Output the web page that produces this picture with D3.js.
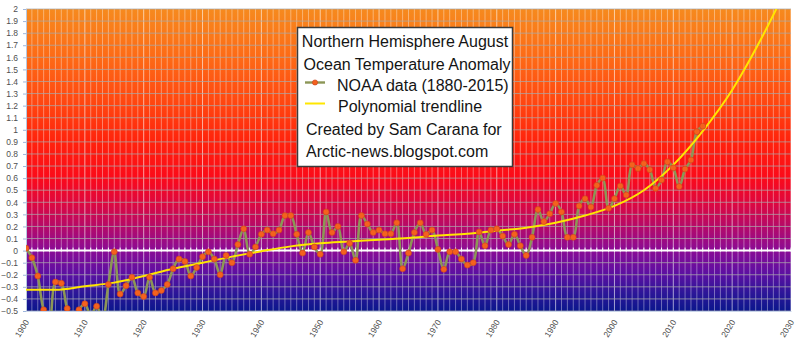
<!DOCTYPE html>
<html>
<head>
<meta charset="utf-8">
<script src="https://cdn.jsdelivr.net/npm/d3@7"></script>
<style>
  html, body { margin: 0; padding: 0; background: #ffffff; }
  svg { display: block; font-family: "Liberation Sans", Arial, sans-serif; }
</style>
</head>
<body>
<svg id="chart" width="796" height="343"></svg>
<script>
// Northern Hemisphere August ocean temperature anomaly (°C), one value per year from 1900
const firstYear = 1900;
const anomalies = [
  0.02, -0.06, -0.21, -0.49, -0.58, -0.26, -0.27, -0.48, -0.56, -0.49,
  -0.44, -0.54, -0.46, -0.57, -0.28, -0.01, -0.36, -0.29, -0.22, -0.35,
  -0.38, -0.22, -0.35, -0.33, -0.28, -0.15, -0.07, -0.09, -0.21, -0.14,
  -0.05, -0.01, -0.07, -0.20, -0.04, -0.10, 0.05, 0.18, -0.03, 0.03,
  0.135, 0.17, 0.14, 0.17, 0.29, 0.29, 0.135, -0.02, 0.15, 0.03,
  -0.03, 0.32, 0.15, 0.20, -0.01, 0.06, -0.08, 0.29, 0.22, 0.15,
  0.17, 0.14, 0.14, 0.23, -0.15, -0.02, 0.15, 0.23, 0.135, 0.17,
  0.01, -0.155, -0.01, -0.01, -0.07, -0.12, -0.10, 0.155, 0.04, 0.17,
  0.18, 0.12, 0.05, 0.135, 0.04, -0.04, 0.11, 0.34, 0.24, 0.305,
  0.39, 0.32, 0.11, 0.11, 0.37, 0.43, 0.36, 0.54, 0.60, 0.35,
  0.43, 0.535, 0.46, 0.71, 0.68, 0.72, 0.67, 0.515, 0.585, 0.735,
  0.685, 0.53, 0.675, 0.75, 0.985, 1.03
];

// Polynomial trendline, sampled every five years
const trendYears = [1900, 1905, 1910, 1915, 1920, 1925, 1930, 1935, 1940, 1945,
  1950, 1955, 1960, 1965, 1970, 1975, 1980, 1985, 1990, 1995,
  2000, 2005, 2010, 2015, 2020, 2025, 2030];
const trendValues = [-0.325, -0.325, -0.295, -0.265, -0.21, -0.15, -0.10, -0.05, -0.005, 0.035,
  0.06, 0.075, 0.09, 0.105, 0.125, 0.14, 0.165, 0.19, 0.23, 0.29,
  0.37, 0.50, 0.71, 0.99, 1.33, 1.76, 2.25];

// Axis ticks
const yTickValues = [2, 1.9, 1.8, 1.7, 1.6, 1.5, 1.4, 1.3, 1.2, 1.1, 1, 0.9, 0.8, 0.7, 0.6,
  0.5, 0.4, 0.3, 0.2, 0.1, 0, -0.1, -0.2, -0.3, -0.4, -0.5];
const xTickYears = [1900, 1910, 1920, 1930, 1940, 1950, 1960, 1970, 1980, 1990, 2000, 2010, 2020, 2030];

// Legend / title lines
const titleLines = ["Northern Hemisphere August", "Ocean Temperature Anomaly"];
const seriesNames = ["NOAA data (1880-2015)", "Polynomial trendline"];
const creditLines = ["Created by Sam Carana for", "Arctic-news.blogspot.com"];

const svg = d3.select("#chart");
const plotLeft = 26, plotRight = 791, plotTop = 9, plotBottom = 311;

const x = d3.scaleLinear().domain([1900, 2030]).range([plotLeft, plotRight]);
const y = d3.scaleLinear().domain([-0.5, 2]).range([plotBottom, plotTop]);

const defs = svg.append("defs");

// Background gradient: orange at the top, red, purple at zero, navy at the bottom
const bgStops = [
  [2.0, "#f68a1e"], [1.6, "#fd6a16"], [1.2, "#ff4410"], [0.9, "#ff220c"],
  [0.6, "#fb0a1a"], [0.4, "#de083e"], [0.2, "#b50a68"], [0.0, "#8a0b96"],
  [-0.2, "#5a10a2"], [-0.35, "#2c1698"], [-0.5, "#0a168c"]
];
const grad = defs.append("linearGradient")
  .attr("id", "bg").attr("gradientUnits", "userSpaceOnUse")
  .attr("x1", 0).attr("x2", 0).attr("y1", y(2)).attr("y2", y(-0.5));
grad.selectAll("stop").data(bgStops).join("stop")
  .attr("offset", d => (y(d[0]) - y(2)) / (y(-0.5) - y(2)))
  .attr("stop-color", d => d[1]);

defs.append("clipPath").attr("id", "plotClip")
  .append("rect").attr("x", plotLeft).attr("y", plotTop)
  .attr("width", plotRight - plotLeft).attr("height", plotBottom - plotTop);

svg.append("rect")
  .attr("x", plotLeft).attr("y", plotTop)
  .attr("width", plotRight - plotLeft).attr("height", plotBottom - plotTop)
  .attr("fill", "url(#bg)");

// Vertical gridlines, one per year
const gridYears = d3.range(1900, 2031);
svg.append("g").selectAll("line").data(gridYears).join("line")
  .attr("x1", d => x(d)).attr("x2", d => x(d))
  .attr("y1", plotTop).attr("y2", plotBottom)
  .attr("stroke", "#ffffff")
  .attr("stroke-opacity", d => d % 10 === 0 ? 0.6 : 0.38)
  .attr("stroke-width", 1);

// Horizontal gridlines at each tick
svg.append("g").selectAll("line").data(yTickValues).join("line")
  .attr("x1", plotLeft).attr("x2", plotRight)
  .attr("y1", d => y(d)).attr("y2", d => y(d))
  .attr("stroke", "#a8a8a8").attr("stroke-opacity", 0.75)
  .attr("stroke-width", 1);

// Zero line with yearly tick marks
const zeroG = svg.append("g");
zeroG.append("line")
  .attr("x1", plotLeft).attr("x2", plotRight).attr("y1", y(0)).attr("y2", y(0))
  .attr("stroke", "#ffffff").attr("stroke-width", 2);
zeroG.selectAll("line.tk").data(gridYears).join("line").attr("class", "tk")
  .attr("x1", d => x(d)).attr("x2", d => x(d))
  .attr("y1", y(0) - 3).attr("y2", y(0) + 1)
  .attr("stroke", "#ffffff").attr("stroke-width", 1);

// Y axis
const yAxis = svg.append("g")
  .attr("transform", `translate(${plotLeft},0)`)
  .call(d3.axisLeft(y).tickValues(yTickValues).tickSize(3).tickPadding(5)
    .tickFormat(d => d3.format("")(+d.toFixed(1))));
yAxis.select(".domain").attr("stroke", "#b8c8e0");
yAxis.selectAll(".tick line").attr("stroke", "#9fb6dc");
yAxis.selectAll("text").attr("fill", "#505050").attr("font-size", "8.5px")
  .attr("font-family", "'Liberation Sans', Arial, sans-serif");

// X axis with slanted year labels
const xAxis = svg.append("g")
  .attr("transform", `translate(0,${plotBottom})`)
  .call(d3.axisBottom(x).tickValues(xTickYears).tickSize(0).tickFormat(d3.format("d")));
xAxis.select(".domain").attr("stroke", "#c8d4e8");
xAxis.selectAll("text")
  .attr("fill", "#505050").attr("font-size", "8.5px")
  .attr("font-family", "'Liberation Sans', Arial, sans-serif")
  .attr("text-anchor", "end")
  .attr("dy", null)
  .attr("y", 0)
  .attr("transform", "translate(3,11) rotate(-58)");

// Data series and trendline, clipped to the plot area
const plot = svg.append("g").attr("clip-path", "url(#plotClip)");

const series = anomalies.map((v, i) => ({ year: firstYear + i, value: v }));
const trend = trendYears.map((yr, i) => ({ year: yr, value: trendValues[i] }));

const dataLine = d3.line().x(d => x(d.year)).y(d => y(d.value))
  .curve(d3.curveCatmullRom.alpha(0.5));
plot.append("path").datum(series)
  .attr("d", dataLine)
  .attr("fill", "none").attr("stroke", "#8c9656").attr("stroke-width", 2.6)
  .attr("stroke-linejoin", "round");

plot.append("path").datum(trend)
  .attr("d", d3.line().x(d => x(d.year)).y(d => y(d.value)).curve(d3.curveMonotoneX))
  .attr("fill", "none").attr("stroke", "#ffe600").attr("stroke-width", 2);

plot.append("g").selectAll("circle").data(series).join("circle")
  .attr("cx", d => x(d.year)).attr("cy", d => y(d.value)).attr("r", 3)
  .attr("fill", "#f4621e").attr("stroke", "#c8401c").attr("stroke-width", 0.6);

// Legend box
const lg = svg.append("g");
lg.append("rect").attr("x", 297.5).attr("y", 27.5).attr("width", 215).attr("height", 139)
  .attr("fill", "#ffffff").attr("stroke", "#3a3a3a").attr("stroke-width", 1.5);

const txt = (s, xx, yy, anchor) => lg.append("text")
  .attr("x", xx).attr("y", yy).attr("text-anchor", anchor)
  .attr("font-size", "16px").attr("fill", "#141414").text(s);

txt(titleLines[0], 405, 46.5, "middle");
txt(titleLines[1], 407, 69.5, "middle");
txt(seriesNames[0], 337, 91, "start");
txt(seriesNames[1], 338, 112, "start");
txt(creditLines[0], 306, 135, "start");
txt(creditLines[1], 306, 156.5, "start");

lg.append("line").attr("x1", 305).attr("x2", 325).attr("y1", 82.5).attr("y2", 82.5)
  .attr("stroke", "#8c9656").attr("stroke-width", 2.4);
lg.append("circle").attr("cx", 315).attr("cy", 82.5).attr("r", 2.6)
  .attr("fill", "#f4621e").attr("stroke", "#c8401c").attr("stroke-width", 0.6);
lg.append("line").attr("x1", 305).attr("x2", 325).attr("y1", 103.5).attr("y2", 103.5)
  .attr("stroke", "#ffe600").attr("stroke-width", 2);
</script>
</body>
</html>
